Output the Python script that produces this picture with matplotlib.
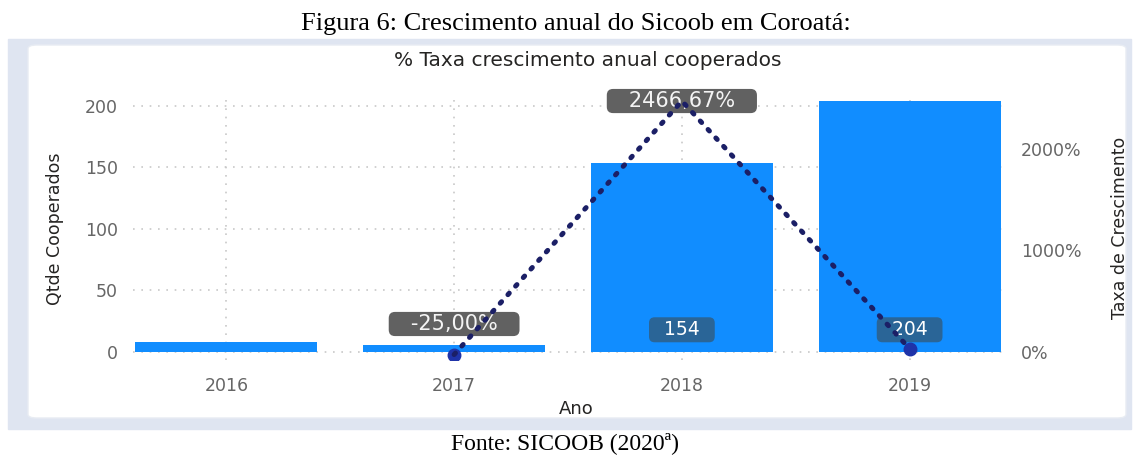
import matplotlib
matplotlib.use('Agg')
import matplotlib.pyplot as plt
from matplotlib.patches import FancyBboxPatch, Rectangle

# dados
anos = ['2016', '2017', '2018', '2019']
cooperados = [8, 6, 154, 204]
taxa = [None, -25.00, 2466.67, 32.47]
mostra_taxa = [False, True, True, False]
mostra_qtde = [False, False, True, True]

plt.rcParams['font.family'] = ['DejaVu Sans']

W, H = 1134, 458
fig = plt.figure(figsize=(W / 100, H / 100), dpi=100)
fig.patch.set_facecolor('white')

def px(x, y):
    return x / W, 1 - y / H

# moldura do visual
x0, y0 = px(8, 429)
fig.patches.append(Rectangle((x0, y0), (1131 - 8) / W, (429 - 39) / H,
                             transform=fig.transFigure, color='#dfe5f1', zorder=-2))
x0, y0 = px(28, 418)
fig.patches.append(FancyBboxPatch((x0, y0), (1126 - 28) / W, (418 - 45) / H,
                                  boxstyle='round,pad=0,rounding_size=0.008',
                                  transform=fig.transFigure, facecolor='white',
                                  edgecolor='#e8ecf3', lw=1, zorder=-1))

fig.text(*px(576, 24), 'Figura 6: Crescimento anual do Sicoob em Coroatá:',
         family='Liberation Serif', fontsize=19, ha='center', va='center', color='black')
fig.text(*px(565, 443), 'Fonte: SICOOB (2020ª)',
         family='Liberation Serif', fontsize=17, ha='center', va='center', color='black')
fig.text(*px(588, 61), '% Taxa crescimento anual cooperados',
         fontsize=14.5, ha='center', va='center', color='#252423')

l, b = px(133, 360)
ax = fig.add_axes([l, b, (1003 - 133) / W, (360 - 95) / H])
ax.set_facecolor('none')
x = list(range(len(anos)))

ax.bar(x, cooperados, width=0.8, color='#118dff', zorder=2)
ax.set_xlim(-0.41, 3.41)
ax.set_ylim(-6.5, 208.9)
ax.set_yticks([0, 50, 100, 150, 200])
ax.set_xticks(x)
ax.set_xticklabels(anos)
ax.grid(True, color='#c8c8c8', linestyle=(0, (1, 4)), lw=1.2, zorder=0)
for s in ax.spines.values():
    s.set_visible(False)
ax.tick_params(length=0, labelsize=12.5, labelcolor='#666666')
ax.tick_params(axis='y', pad=11)
ax.tick_params(axis='x', pad=12)
ax.set_ylabel('Qtde Cooperados', fontsize=12.5, color='#252423', va='center')
ax.yaxis.set_label_coords(-0.09, 0.494)
ax.set_xlabel('Ano', fontsize=13, color='#252423', va='center')
ax.xaxis.set_label_coords(0.51, -0.185)

ax2 = ax.twinx()
ax2.set_ylim(-78.6, 2525.8)
ax2.set_yticks([0, 1000, 2000])
ax2.set_yticklabels(['0%', '1000%', '2000%'])
for s in ax2.spines.values():
    s.set_visible(False)
ax2.tick_params(length=0, labelsize=12.5, labelcolor='#666666', pad=13)
ax2.set_ylabel('Taxa de Crescimento', fontsize=12.5, color='#252423',
               rotation=90, va='center')
ax2.yaxis.set_label_coords(1.1345, 0.5)

# rotulos de quantidade (base das barras)
for i, v in enumerate(cooperados):
    if mostra_qtde[i]:
        ax2.annotate('  %d  ' % v, (i, 0), xycoords=ax.transData, xytext=(0, 16),
                     textcoords='offset points', ha='center', va='center',
                     fontsize=13.5, color='white', zorder=2.5,
                     bbox=dict(boxstyle='round,pad=0.16,rounding_size=0.3',
                               fc='#2a6597', ec='none'))

xs = [i for i in x if taxa[i] is not None]
ys = [taxa[i] for i in xs]
ax2.plot(xs, ys, 'o', color='#1f33a8', ms=9, lw=0, zorder=3)
ax2.plot(xs, ys, color='#1b1f66', lw=3.6, linestyle=(0, (0.4, 1.9)),
         dash_capstyle='round', zorder=5)

offsets = {1: 22, 2: 0}
for i in xs:
    if mostra_taxa[i]:
        txt = '   ' + ('%.2f%%' % taxa[i]).replace('.', ',') + '   '
        ax2.annotate(txt, (i, taxa[i]), xytext=(0, offsets.get(i, 22)),
                     textcoords='offset points', ha='center', va='center',
                     fontsize=15, color='#f4f4f4', zorder=4,
                     bbox=dict(boxstyle='round,pad=0.1,rounding_size=0.3',
                               fc='#616161', ec='none'))

ax.set_zorder(1)
ax2.set_zorder(2)
fig.savefig('out.png', dpi=100)
